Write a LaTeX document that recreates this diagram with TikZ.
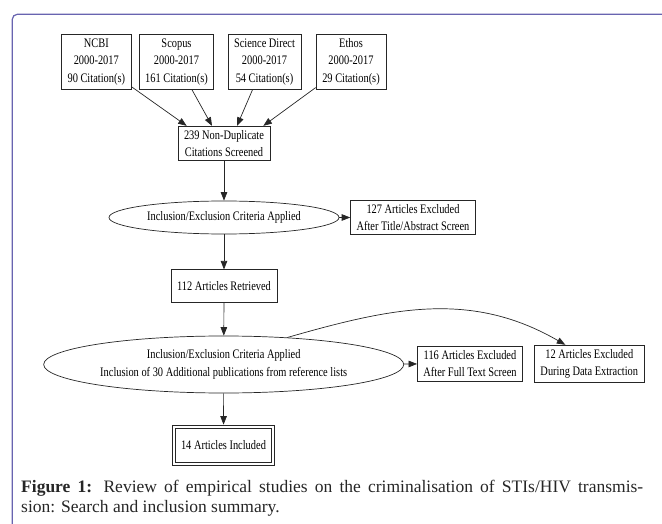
\documentclass[tikz,border=0pt]{standalone}
\usepackage{fontspec}
\setmainfont{Liberation Serif}
\newfontfamily\gvfont[FakeStretch=0.8]{Liberation Serif}
\usepackage{tikz}
\usetikzlibrary{shapes.geometric,arrows.meta,positioning}
\definecolor{framecol}{RGB}{104,100,176}

\begin{document}
\begin{tikzpicture}[
  x=1pt, y=-1pt,
  box/.style={
    draw=black!85, line width=0.7pt, rectangle, align=center,
    font=\gvfont\fontsize{13}{17.5}\selectfont,
    inner xsep=6pt, inner ysep=4pt, minimum height=33pt,
    },
  src/.style={box, minimum width=#1},
  oval/.style={box, ellipse, inner sep=0pt},
  arr/.style={draw=black!85, line width=0.7pt,
    -{Triangle[length=8.5pt,width=6.5pt]}},
  ]
  \useasboundingbox (0,0) rectangle (662,524);
  \draw[framecol, line width=1.2pt, rounded corners=5pt]
    (12.3,524) -- (12.3,14.3) -- (662,14.3);

  % sources
  \node[src=67pt] (ncbi)   at (96.3,61.8)  {NCBI\\2000-2017\\90 Citation(s)};
  \node[src=65pt] (scopus) at (176.5,61.8) {Scopus\\2000-2017\\161 Citation(s)};
  \node[src=67pt] (scidir) at (264.5,61.8) {Science Direct\\2000-2017\\54 Citation(s)};
  \node[src=70pt] (ethos)  at (351,61.8)   {Ethos\\2000-2017\\29 Citation(s)};

  \node[box] (dedup) at (224,143.5) {239 Non-Duplicate\\Citations Screened};
  \node[oval, minimum width=230pt, minimum height=33pt]
    (screen1) at (224,217.5) {Inclusion/Exclusion Criteria Applied};
  \node[box] (excl1) at (413,217.5) {127 Articles Excluded\\After Title/Abstract Screen};
  \node[box] (retr) at (224,286.3) {112 Articles Retrieved};
  \node[oval, minimum width=360pt, minimum height=57pt]
    (screen2) at (223.7,364.5)
    {Inclusion/Exclusion Criteria Applied\\Inclusion of 30 Additional publications from reference lists};
  \node[box] (excl2) at (470,363.8) {116 Articles Excluded\\After Full Text Screen};
  \node[box] (excl3) at (589.3,363.8) {12 Articles Excluded\\During Data Extraction};
  \node[box, double, double distance=2.6pt, minimum width=99pt, minimum height=37pt]
    (incl) at (223.5,445.5) {14 Articles Included};

  \draw[arr] (ncbi) -- ([xshift=9pt]dedup.north west);
  \draw[arr] (scopus) -- ([xshift=-12pt]dedup.north);
  \draw[arr] (scidir) -- ([xshift=13pt]dedup.north);
  \draw[arr] (ethos) -- ([xshift=-7pt]dedup.north east);
  \draw[arr] (dedup) -- (screen1);
  \draw[arr] (screen1) -- (excl1);
  \draw[arr] (screen1) -- (retr);
  \draw[arr] (retr) -- (screen2);
  \draw[arr] (screen2) -- (excl2);
  \draw[arr] (screen2.23) to[out=16,in=150] ([xshift=-24pt]excl3.north);
  \draw[arr, shorten >=2pt] (screen2) -- (incl);

  % caption
  \node[anchor=north west, inner sep=0pt, align=left, text=black!85,
    font=\fontsize{17.5}{20}\selectfont] (caption) at (21,480)
    {\makebox[622pt][s]{\textbf{Figure 1:} Review of empirical studies on the criminalisation of STIs/HIV transmis-}\\
     sion: Search and inclusion summary.};
\end{tikzpicture}
\end{document}
